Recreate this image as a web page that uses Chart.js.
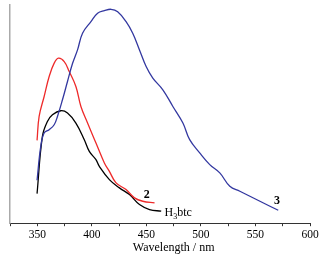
<!DOCTYPE html>
<html><head><meta charset="utf-8">
<script src="https://cdn.jsdelivr.net/npm/chart.js@4"></script>
<style>html,body{margin:0;padding:0;background:#fff}#c{display:block}</style>
</head><body>
<canvas id="c" width="333" height="262"></canvas>
<script>
// Wavelength (nm) / intensity (a.u.)
const blackX = [349.8,354.7,359.3,363.9,371.6,377.7,385.4,393.1,397.7,403.8,406.9,416.1,425.3,434.5,443.7,452.9,463.6];
const blackY = [29.7,87,102,108.7,112.7,110.4,100.4,83.7,72,63.7,57,43.7,35.4,28.7,18.7,13.7,12];
const redX = [349.8,351.7,356.3,360.9,365.5,369.4,374.7,379.3,385.4,390.0,396.1,403.8,411.5,416.1,422.2,431.4,439.1,446.7,457.5];
const redY = [83,107,127,147,160.4,165.4,162,152,137,117,100.4,80.4,60.4,52,40.4,33.7,25.4,22,20.4];
const blueX = [349.8,353.2,356.3,360.9,365.5,368.5,373.1,377.7,382.3,386.9,391.5,399.2,405.3,411.5,417.6,423.7,431.4,437.5,443.7,449.8,455.9,465.1,474.3,483.5,489.7,498.9,508.1,517.3,526.5,535.7,544.9,554.1,563.3,570.9];
const blueY = [43,77,90.4,93.7,98.7,107,123.7,142,160,173.7,190.4,202,210.4,213,214.4,212,202,190.4,173.7,157,145.4,133.7,117,100.4,83.7,70.4,58.7,50.4,37,32,27,22,17,13];
const xTickValues = [350,400,450,500,550,600];
const seriesLabels = [
  {text:'2', x:450.4, y:28.7, bold:true},
  {text:'3', x:569.7, y:22.7, bold:true}
];
const h3btcLabel = {x:466.7, y:10.7};
const xTitle = 'Wavelength / nm';

const pts = (xs, ys) => xs.map((x,i)=>({x, y: ys[i]}));
const serif = "'Liberation Serif','DejaVu Serif',serif";

const labelPlugin = {
  id:'labels',
  afterDraw(chart){
    const {ctx, scales:{x, y}} = chart;
    ctx.save();
    ctx.fillStyle = '#000';
    ctx.textBaseline = 'middle';
    ctx.textAlign = 'center';
    seriesLabels.forEach(l=>{
      ctx.font = (l.bold?'bold ':'') + '12px ' + serif;
      ctx.fillText(l.text, x.getPixelForValue(l.x), y.getPixelForValue(l.y));
    });
    ctx.textAlign = 'left';
    let px = x.getPixelForValue(h3btcLabel.x), py = y.getPixelForValue(h3btcLabel.y);
    ctx.font = '12px ' + serif;
    ctx.fillText('H', px, py);
    px += ctx.measureText('H').width;
    ctx.font = '8px ' + serif;
    ctx.fillText('3', px, py + 4);
    px += ctx.measureText('3').width;
    ctx.font = '12px ' + serif;
    ctx.fillText('btc', px, py);
    ctx.textAlign = 'center';
    ctx.font = '12px ' + serif;
    ctx.fillText(xTitle, x.getPixelForValue(475), 248);
    ctx.restore();
  }
};

const ds = (data, color) => ({data, borderColor: color, borderWidth: 1.3, pointRadius: 0, fill:false, tension: 0.4});

new Chart(document.getElementById('c'), {
  type:'line',
  data:{datasets:[
    ds(pts(blueX, blueY), '#3338a0'),
    ds(pts(redX, redY), '#ee2a2a'),
    ds(pts(blackX, blackY), '#000000')
  ]},
  options:{
    responsive:false, animation:false, devicePixelRatio:1,
    layout:{padding:{left:10, right:23, top:5, bottom:18}},
    plugins:{legend:{display:false}, tooltip:{enabled:false}},
    scales:{
      x:{type:'linear', min:325, max:600,
        border:{color:'#333', width:1},
        grid:{drawOnChartArea:false, drawTicks:true, tickLength:3, color:'#333'},
        ticks:{stepSize:25, autoSkip:false, maxRotation:0, padding:2, color:'#000',
          font:{family:serif, size:11.5},
          callback:(v)=> xTickValues.includes(v) ? String(v) : ''}
      },
      y:{min:0, max:218.7,
        border:{color:'#aaaaaa', width:1.5},
        grid:{display:false, drawTicks:false},
        ticks:{display:false}
      }
    }
  },
  plugins:[labelPlugin]
});
</script>
</body></html>
